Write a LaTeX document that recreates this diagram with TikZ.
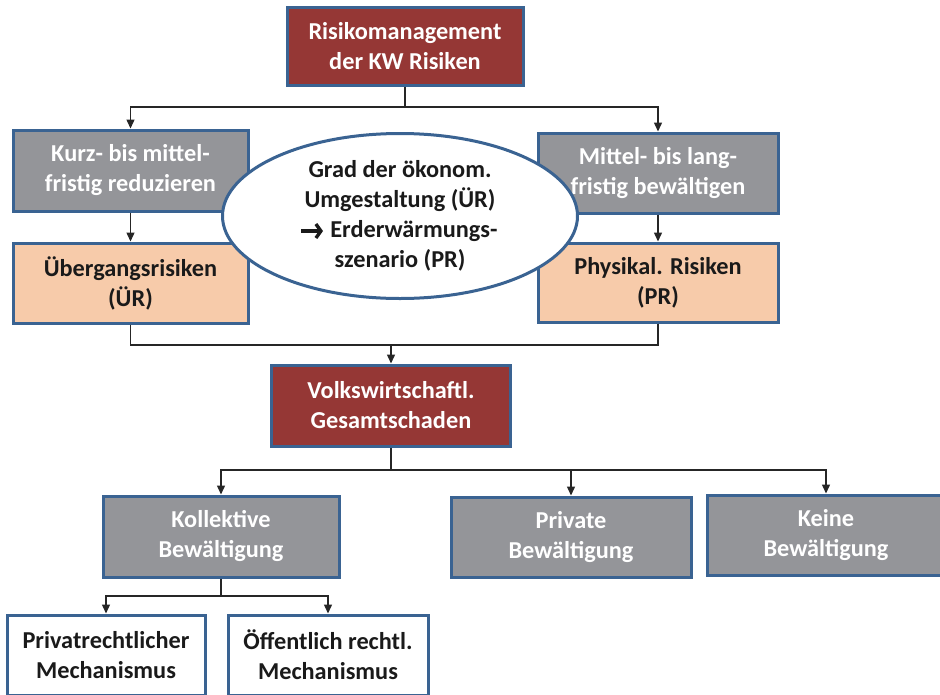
\documentclass[tikz,border=0pt]{standalone}
\usepackage{fontspec}
\setmainfont{Carlito}
\usetikzlibrary{arrows.meta,shadows,shapes.geometric}
\definecolor{bord}{RGB}{58,99,146}
\definecolor{dred}{RGB}{149,55,53}
\definecolor{grayb}{RGB}{148,149,153}
\definecolor{orng}{RGB}{247,203,170}
\definecolor{txt}{RGB}{26,26,26}
\begin{document}
\begin{tikzpicture}[x=1pt,y=-1pt,
  box/.style={draw=bord, line width=3pt, inner sep=0pt, align=center,
    font=\fontsize{24.3}{30}\selectfont\bfseries,
    drop shadow={shadow xshift=1.5pt, shadow yshift=-1.5pt, opacity=0.25}},
  redbox/.style={box, fill=dred, text=white},
  graybox/.style={box, fill=grayb, text=white},
  orbox/.style={box, fill=orng, text=txt},
  whbox/.style={box, fill=white, text=txt},
  conn/.style={draw=black!85, line width=1.4pt},
  arr/.style={conn, -{Triangle[length=9pt,width=8pt]}},
  fatarr/.style={draw=txt, line width=3.6pt, -{Straight Barb[length=5pt,width=14pt,line width=3.4pt]}}]
\useasboundingbox (0,0) rectangle (940,694);
\clip (0,0) rectangle (940,694);
\node[redbox, minimum width=236pt, minimum height=78pt] (top) at (405,46) {Risikomanagement\\der KW Risiken};
\node[graybox, minimum width=235pt, minimum height=81pt] (kurz) at (130.5,170.5) {Kurz- bis mittel-\\fristig reduzieren};
\node[orbox, minimum width=235pt, minimum height=80pt] (ueb) at (130.5,283) {Übergangsrisiken\\(ÜR)};
\node[graybox, minimum width=240pt, minimum height=80pt] (mit) at (658,173) {Mittel- bis lang-\\fristig bewältigen};
\node[orbox, minimum width=240pt, minimum height=79pt] (phys) at (658,282.5) {Physikal. Risiken\\(PR)};
\node[redbox, minimum width=239pt, minimum height=81pt] (volk) at (391,405.5) {Volkswirtschaftl.\\Gesamtschaden};
\node[graybox, minimum width=236pt, minimum height=81pt] (koll) at (221,536.5) {Kollektive\\Bewältigung};
\node[graybox, minimum width=240pt, minimum height=80pt] (priv) at (571,537) {Private\\Bewältigung};
\node[graybox, minimum width=238pt, minimum height=80pt] (keine) at (826,535) {Keine\\Bewältigung};
\node[whbox, minimum width=198pt, minimum height=80pt] (prm) at (106,655) {Privatrechtlicher\\Mechanismus};
\node[whbox, minimum width=200pt, minimum height=80pt] (oef) at (328,655) {Öffentlich rechtl.\\Mechanismus};
% ellipse
\node[draw=bord, line width=3pt, fill=white, ellipse, minimum width=355pt, minimum height=165pt,
  inner sep=0pt, align=center, text=txt, font=\fontsize{24.3}{30}\selectfont\bfseries] (ell) at (400,216)
  {Grad der ökonom.\\Umgestaltung (ÜR)\\\hspace*{28pt}Erderwärmungs-\\szenario (PR)};
\coordinate (a1) at (301,231);
\coordinate (a2) at (323,231);
\draw[fatarr] (a1) -- (a2);
% connectors
\coordinate (j1) at (405,107);
\coordinate (j2) at (391,345);
\coordinate (j3) at (391,470);
\coordinate (j4) at (221,596);
\draw[conn] (top.south) -- (j1);
\draw[arr] (j1) -| (kurz.north);
\draw[arr] (j1) -| (mit.north);
\draw[arr] (kurz.south) -- (ueb.north);
\draw[arr] (mit.south) -- (phys.north);
\draw[conn] (ueb.south) |- (j2);
\draw[conn] (phys.south) |- (j2);
\draw[arr] (j2) -- (volk.north);
\draw[conn] (volk.south) -- (j3);
\draw[arr] (j3) -| (koll.north);
\draw[arr] (j3) -| (priv.north);
\draw[arr] (j3) -| (keine.north);
\draw[conn] (koll.south) -- (j4);
\draw[arr] (j4) -| (prm.north);
\draw[arr] (j4) -| (oef.north);
\end{tikzpicture}
\end{document}
